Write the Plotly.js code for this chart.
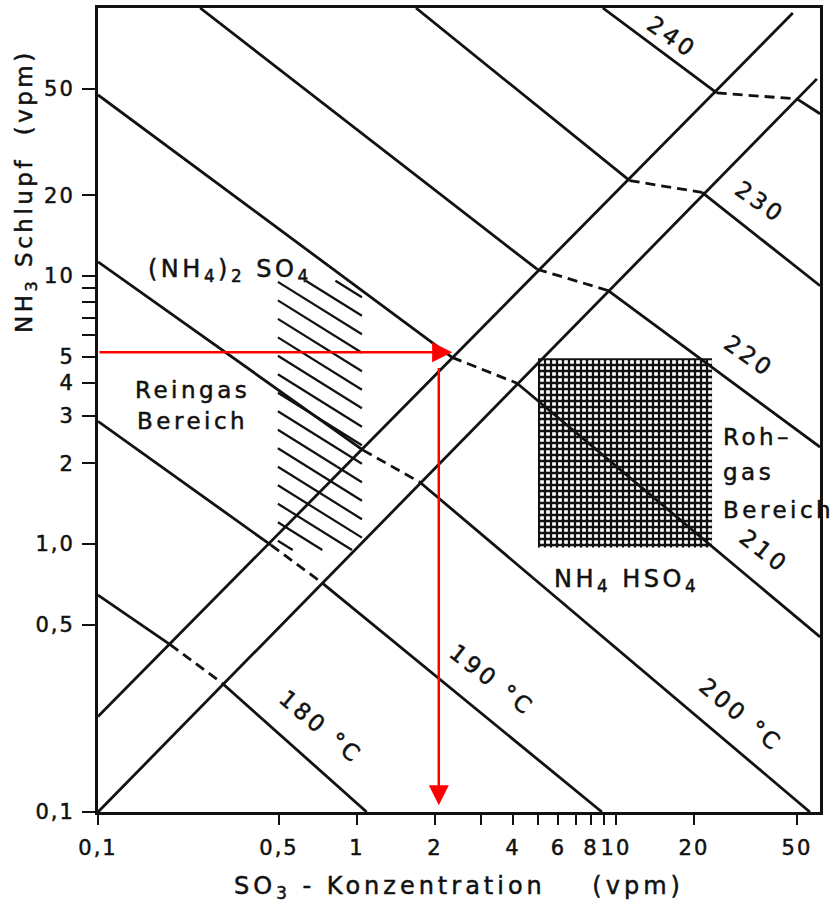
<!DOCTYPE html>
<html><head><meta charset="utf-8">
<script src="https://cdn.plot.ly/plotly-3.0.1.min.js"></script>
<style>
html,body{margin:0;padding:0;background:#fff;}
text{letter-spacing:2px; paint-order:stroke; stroke:#111; stroke-width:0.5px;}
text.annotation-text{letter-spacing:3.5px;}
text.xtitle{letter-spacing:4px;}
</style></head><body>
<div id="chart" style="width:840px;height:909px;"></div>
<script>
// ---- axis ticks ----
const xTickVals = [0.1, 0.5, 1, 2, 4, 6, 8, 10, 20, 50];
const xTickText = ['0,1', '0,5', '1', '2', '4', '6', '8', '10', '20', '50'];
const xMinorVals = [3, 5, 7, 9];
const yTickVals = [0.1, 0.5, 1, 2, 3, 4, 5, 10, 20, 50];
const yTickText = ['0,1', '0,5', '1,0', '2', '3', '4', '5', '10', '20', '50'];
const yMinorVals = [6, 7, 8, 9];

// ---- boundary lines between (NH4)2SO4 and NH4HSO4 fields ----
const boundAX = [0.1, 48.2];
const boundAY = [0.227, 95.8];
const boundBX = [0.1, 59.7];
const boundBY = [0.1, 54.4];

// ---- isotherms (°C) ----
const temps = [180, 190, 200, 210, 220, 230, 240];
// (NH4)2SO4 part (upper left, solid)
const sulfX = [[0.1, 0.19], [0.1, 0.466], [0.1, 1.055], [0.1, 2.33], [0.248, 4.96], [1.69, 11.3], [8.9, 24.5]];
const sulfY = [[0.645, 0.421], [2.87, 0.99], [11.3, 2.24], [47.4, 4.97], [100, 10.6], [100, 22.7], [100, 48.2]];
// transition between the boundaries (dashed)
const transX = [[0.19, 0.301], [0.466, 0.733], [1.055, 1.75], [2.33, 4.15], [4.96, 9.31], [11.3, 21.5], [24.5, 50.0]];
const transY = [[0.421, 0.303], [0.99, 0.716], [2.24, 1.70], [4.97, 3.98], [10.6, 8.83], [22.7, 20.5], [48.2, 45.8]];
// NH4HSO4 part (lower right, solid)
const bisulfX = [[0.301, 1.09], [0.733, 8.83], [1.75, 56.1], [4.15, 61.4], [9.31, 61.4], [21.5, 61.4], [50.0, 61.4]];
const bisulfY = [[0.303, 0.1], [0.716, 0.1], [1.70, 0.1], [3.98, 0.45], [8.83, 2.3], [20.5, 9.2], [45.8, 40.3]];

// ---- regions ----
const reingasX = [0.495, 1.045];
const reingasY = [0.95, 9.6];
const rohgasX = [5.0, 23.5];
const rohgasY = [0.97, 4.93];

// ---- red reading example ----
const readNH3 = 5.19;      // horizontal arrow level
const readHitX = 2.33;     // arrow tip on boundary
const readSO3 = 2.07;      // vertical arrow position
const readStartY = 4.6;
const readEndY = 0.106;

function joinSegs(xs, ys) {
  const X = [], Y = [];
  xs.forEach((seg, i) => { seg.forEach((v, j) => { X.push(v); Y.push(ys[i][j]); }); X.push(null); Y.push(null); });
  return {X, Y};
}

function hatch(xr, yr, slope, step) {
  const lx0 = Math.log10(xr[0]), lx1 = Math.log10(xr[1]);
  const ly0 = Math.log10(yr[0]), ly1 = Math.log10(yr[1]);
  const X = [], Y = [];
  const cMax = ly1 - slope * (lx1 - lx0);
  for (let c = ly0 + step * 0.5; c <= cMax; c += step) {
    let xa = lx0, ya = c, xb = lx1, yb = c + slope * (lx1 - lx0);
    if (ya > ly1) { xa = lx0 + (ly1 - c) / slope; ya = ly1; }
    if (yb < ly0) { xb = lx0 + (ly0 - c) / slope; yb = ly0; }
    if (xa >= xb) continue;
    X.push(10 ** xa, 10 ** xb, null); Y.push(10 ** ya, 10 ** yb, null);
  }
  return {X, Y};
}

const ink = '#111';
const red = '#ff0000';
const lw = 2.8;
const solidA = joinSegs(sulfX, sulfY);
const solidB = joinSegs(bisulfX, bisulfY);
const dashed = joinSegs(transX, transY);
const h = hatch(reingasX, reingasY, -0.603, 0.069);

const traces = [
  {x: [rohgasX[0], rohgasX[1], rohgasX[1], rohgasX[0], rohgasX[0]],
   y: [rohgasY[0], rohgasY[0], rohgasY[1], rohgasY[1], rohgasY[0]],
   mode: 'lines', fill: 'toself', line: {width: 0, color: ink},
   fillcolor: 'rgba(0,0,0,0)',
   fillpattern: {shape: '+', size: 6, solidity: 0.62, fgcolor: ink, bgcolor: 'white'},
   hoverinfo: 'skip', showlegend: false},
  {x: h.X, y: h.Y, mode: 'lines', line: {width: 2.2, color: ink}, hoverinfo: 'skip', showlegend: false},
  {x: boundAX, y: boundAY, mode: 'lines', line: {width: lw, color: ink}, showlegend: false},
  {x: boundBX, y: boundBY, mode: 'lines', line: {width: lw, color: ink}, showlegend: false},
  {x: solidA.X, y: solidA.Y, mode: 'lines', line: {width: lw, color: ink}, name: '(NH4)2SO4', showlegend: false},
  {x: solidB.X, y: solidB.Y, mode: 'lines', line: {width: lw, color: ink}, name: 'NH4HSO4', showlegend: false},
  {x: dashed.X, y: dashed.Y, mode: 'lines', line: {width: lw, color: ink, dash: '10px,6px'}, showlegend: false}
];

const F = 'DejaVu Sans, sans-serif';
function P(px, py) { return {x: (px - 98) / 722, y: (812 - py) / 804}; }
function lab(text, px, py, ang, size, xa) {
  const p = P(px, py);
  return {text: text, x: p.x, y: p.y, xref: 'paper', yref: 'paper', showarrow: false,
          textangle: ang || 0, xanchor: xa || 'center', yanchor: 'middle',
          font: {family: F, size: size || 23, color: ink}};
}
function arrow(x0, y0, x1, y1) {
  return {x: Math.log10(x1), y: Math.log10(y1), ax: Math.log10(x0), ay: Math.log10(y0),
          xref: 'x', yref: 'y', axref: 'x', ayref: 'y', text: '', showarrow: true,
          arrowhead: 2, arrowsize: 1.6, arrowwidth: 2.5, arrowcolor: red, standoff: 0, startstandoff: 0};
}

const annotations = [
  lab(temps[6] + '', 672, 37, 35),
  lab(temps[5] + '', 760, 202, 35),
  lab(temps[4] + '', 749, 356, 35),
  lab(temps[3] + '', 764, 551, 38),
  lab(temps[2] + ' °C', 741, 715, 40),
  lab(temps[1] + ' °C', 492, 680, 38),
  lab(temps[0] + ' °C', 321, 727, 40),
  lab('(NH<sub>4</sub>)<sub>2</sub> SO<sub>4</sub>', 230, 270, 0, 24),
  lab('Reingas', 133, 390, 0, 23, 'left'),
  lab('Bereich', 135, 421, 0, 23, 'left'),
  lab('Roh–', 721, 437, 0, 23, 'left'),
  lab('gas', 721, 472, 0, 23, 'left'),
  lab('Bereich', 721, 510, 0, 23, 'left'),
  lab('NH<sub>4</sub> HSO<sub>4</sub>', 626, 580, 0, 24),
  lab('NH<sub>3</sub> Schlupf\u00a0\u00a0(vpm)', 26, 191, -90, 23),
  arrow(0.1, readNH3, readHitX, readNH3),
  arrow(readSO3, readStartY, readSO3, readEndY)
];

const layout = {
  width: 840, height: 909,
  margin: {l: 98, r: 20, t: 8, b: 97},
  paper_bgcolor: 'white', plot_bgcolor: 'white',
  showlegend: false,
  font: {family: F, color: ink},
  xaxis: {type: 'log', range: [-1, 1.788], tickmode: 'array', tickvals: xTickVals, ticktext: xTickText,
          ticks: 'outside', ticklen: 10, tickwidth: 2, tickcolor: ink,
          minor: {tickmode: 'array', tickvals: xMinorVals, ticks: 'outside', ticklen: 10, tickwidth: 2, tickcolor: ink, showgrid: false},
          showline: true, linewidth: 3, linecolor: ink, mirror: true, showgrid: false, zeroline: false,
          tickfont: {family: F, size: 21, color: ink}, ticklabelstandoff: 5,
          title: {text: 'SO<sub>3</sub> - Konzentration\u00a0\u00a0\u00a0\u00a0(vpm)', font: {family: F, size: 24, color: ink}, standoff: 18}},
  yaxis: {type: 'log', range: [-1, 2], tickmode: 'array', tickvals: yTickVals, ticktext: yTickText,
          ticks: 'outside', ticklen: 13, tickwidth: 2, tickcolor: ink,
          minor: {tickmode: 'array', tickvals: yMinorVals, ticks: 'outside', ticklen: 13, tickwidth: 2, tickcolor: ink, showgrid: false},
          showline: true, linewidth: 3, linecolor: ink, mirror: true, showgrid: false, zeroline: false,
          tickfont: {family: F, size: 21, color: ink}, ticklabelstandoff: 3},
  annotations: annotations
};

Plotly.newPlot('chart', traces, layout, {displayModeBar: false, staticPlot: true});
</script></body></html>
